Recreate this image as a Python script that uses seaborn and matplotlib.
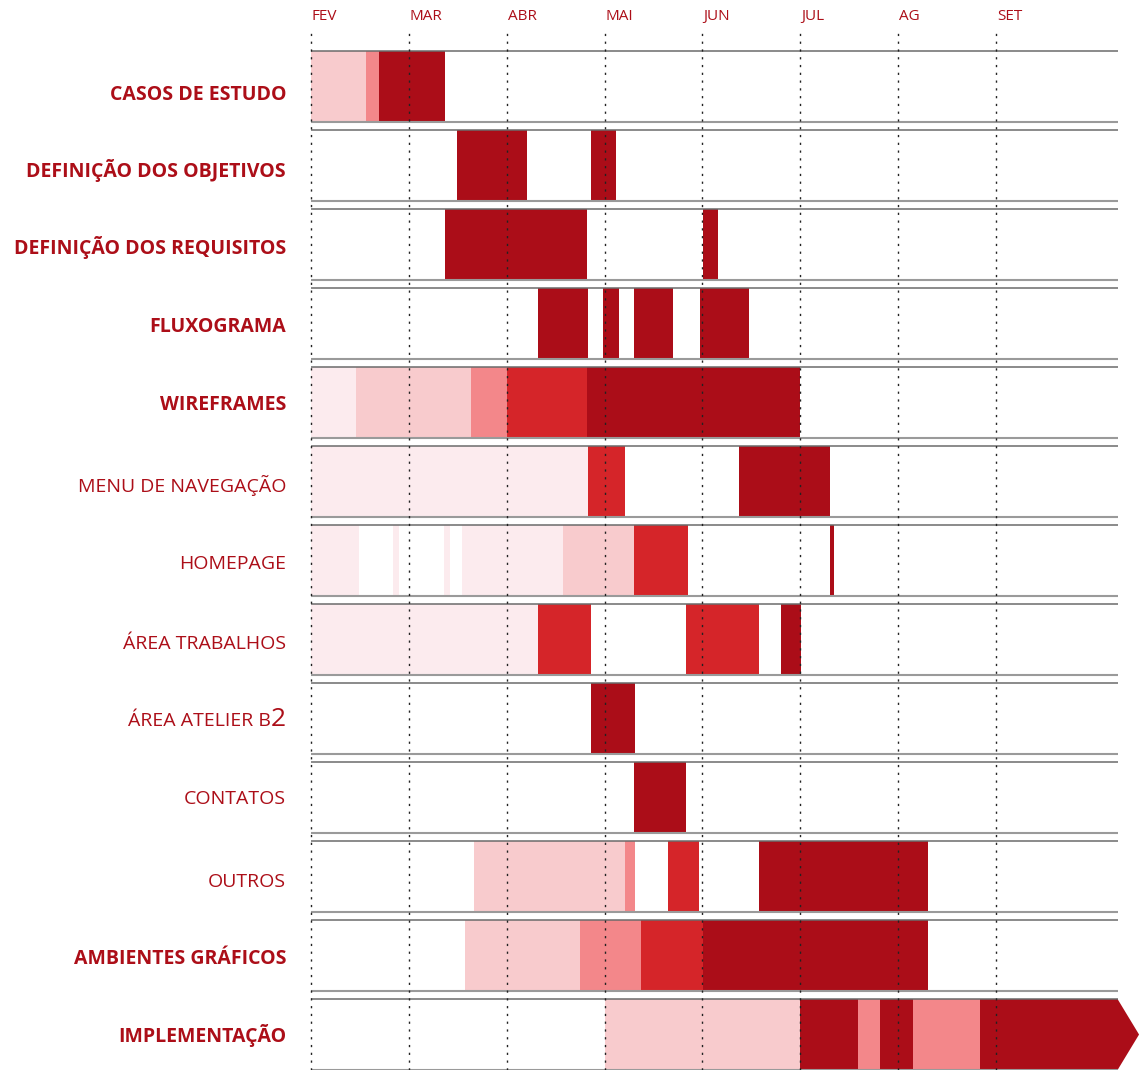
import matplotlib
matplotlib.use('Agg')
import matplotlib.pyplot as plt
import seaborn as sns
import pandas as pd
from matplotlib.patches import Polygon

sns.set_style('white')
plt.rcParams['font.family'] = ['Open Sans', 'DejaVu Sans']

RED = '#AC0E18'

months = ['FEV', 'MAR', 'ABR', 'MAI', 'JUN', 'JUL', 'AG', 'SET']
tasks = ['CASOS DE ESTUDO', 'DEFINIÇÃO DOS OBJETIVOS', 'DEFINIÇÃO DOS REQUISITOS',
         'FLUXOGRAMA', 'WIREFRAMES', 'MENU DE NAVEGAÇÃO', 'HOMEPAGE',
         'ÁREA TRABALHOS', 'ÁREA ATELIER B2', 'CONTATOS', 'OUTROS',
         'AMBIENTES GRÁFICOS', 'IMPLEMENTAÇÃO']
bold_tasks = ['CASOS DE ESTUDO', 'DEFINIÇÃO DOS OBJETIVOS', 'DEFINIÇÃO DOS REQUISITOS',
              'FLUXOGRAMA', 'WIREFRAMES', 'AMBIENTES GRÁFICOS', 'IMPLEMENTAÇÃO']

# segmentos: tarefa, inicio / fim (meses desde 1 de fevereiro), intensidade 0..4
seg_task = [0, 0, 0,
            1, 1,
            2, 2,
            3, 3, 3, 3,
            4, 4, 4, 4, 4,
            5, 5, 5,
            6, 6, 6, 6, 6, 6, 6,
            7, 7, 7, 7,
            8,
            9,
            10, 10, 10, 10,
            11, 11, 11, 11,
            12, 12, 12, 12, 12, 12]
seg_start = [0.00, 0.56, 0.70,
             1.49, 2.86,
             1.37, 4.01,
             2.32, 2.98, 3.30, 3.97,
             0.00, 0.46, 1.64, 2.00, 2.82,
             0.00, 2.83, 4.37,
             0.00, 0.84, 1.36, 1.54, 2.58, 3.30, 5.30,
             0.00, 2.32, 3.83, 4.80,
             2.86,
             3.30,
             1.67, 3.21, 3.65, 4.58,
             1.57, 2.75, 3.37, 4.01,
             3.00, 5.00, 5.59, 5.81, 6.15, 6.84]
seg_end = [0.56, 0.70, 1.37,
           2.21, 3.12,
           2.82, 4.16,
           2.83, 3.15, 3.70, 4.48,
           0.46, 1.64, 2.00, 2.82, 5.00,
           2.83, 3.21, 5.30,
           0.49, 0.90, 1.42, 2.58, 3.30, 3.85, 5.34,
           2.32, 2.86, 4.58, 5.01,
           3.31,
           3.83,
           3.21, 3.31, 3.96, 6.30,
           2.75, 3.37, 4.01, 6.30,
           5.00, 5.59, 5.81, 6.15, 6.84, 8.24]
seg_shade = [1, 2, 4,
             4, 4,
             4, 4,
             4, 4, 4, 4,
             0, 1, 2, 3, 4,
             0, 3, 4,
             0, 0, 0, 0, 1, 3, 4,
             0, 3, 3, 4,
             4,
             4,
             1, 2, 3, 4,
             1, 2, 3, 4,
             1, 4, 2, 4, 2, 4]

shades = ['#FCEBEE', '#F8CBCD', '#F3878A', '#D52529', '#AB0D18']
palette = sns.color_palette(shades)

df = pd.DataFrame({'task': seg_task, 'start': seg_start, 'end': seg_end, 'shade': seg_shade})

fig = plt.figure(figsize=(11.41, 10.70), dpi=100)
ax = fig.add_axes([300 / 1141, 0, 841 / 1141, 1038 / 1070])

row_h = 0.9
box_end = 8.24
px = 1 / 79  # um pixel em unidades de linha

for _, s in df.iterrows():
    ax.barh(s['task'], s['end'] - s['start'], left=s['start'], height=row_h,
            color=palette[int(s['shade'])], linewidth=0, zorder=2)

# seta no fim da implementação
last = df[df['task'] == 12].iloc[-1]
tip = Polygon([(last['end'], 12 - row_h / 2), (last['end'] + 0.22, 12),
               (last['end'], 12 + row_h / 2)], closed=True,
              facecolor=palette[int(last['shade'])], linewidth=0, zorder=2)
ax.add_patch(tip)

# linhas das caixas
for i in range(len(tasks)):
    ax.hlines(i - row_h / 2, 0, box_end, color='#6b6b6b', lw=1.1, zorder=3)
    ax.hlines(i + row_h / 2, 0, box_end, color='#9a9a9a', lw=1.5, zorder=3)

ax.set_ylim(12.449, -0.690)
ax.set_xlim(-0.112, 8.48)

# linhas pontilhadas dos meses
for m, name in enumerate(months):
    ax.axvline(m, color='#222222', lw=1.0, linestyle=(0, (1.6, 4.0)), zorder=4)
    ax.text(m + 0.01, -0.89, name, color=RED, fontsize=11, ha='left', va='center',
            clip_on=False)

# rótulos das tarefas (deslocamento vertical em px)
label_dy = [6.5, 4.5, 2.5, 1.5, 0.5, 3.5, 1.5, 2.5, 0.5, -0.5, 3.5, 1.5, 0.5]
lab_x = -0.255
for i, t in enumerate(tasks):
    y = i + (7 + label_dy[i]) * px
    if t == 'ÁREA ATELIER B2':
        t2 = ax.text(lab_x, y, '2', color=RED, fontsize=19, ha='right',
                     va='baseline', clip_on=False)
        fig.canvas.draw()
        bb = t2.get_window_extent()
        x_left = ax.transData.inverted().transform((bb.x0, bb.y0))[0]
        ax.text(x_left, y, 'ÁREA ATELIER B', color=RED, fontsize=14,
                ha='right', va='baseline', clip_on=False)
    elif t in bold_tasks:
        ax.text(lab_x, y, t, color=RED, fontsize=14, fontweight='bold',
                ha='right', va='baseline', clip_on=False)
    else:
        ax.text(lab_x, y, t, color=RED, fontsize=14, ha='right', va='baseline',
                clip_on=False)

ax.set_xticks([])
ax.set_yticks([])
sns.despine(ax=ax, left=True, bottom=True)

fig.savefig('out.png', dpi=100)
